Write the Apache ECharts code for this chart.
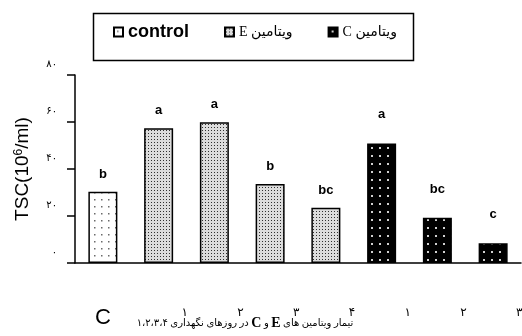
<!DOCTYPE html>
<html>
<head>
<meta charset="utf-8">
<script src="https://cdn.jsdelivr.net/npm/echarts@6/dist/echarts.min.js"></script>
<style>
html, body { margin: 0; padding: 0; background: #fff; }
#chart { width: 522px; height: 336px; }
</style>
</head>
<body>
<div id="chart"></div>
<script>
// values (TSC, 10^6/ml)
var categories = ['control', 'E1', 'E2', 'E3', 'E4', 'C1', 'C2', 'C3'];
var groups = ['control', 'vitE', 'vitE', 'vitE', 'vitE', 'vitC', 'vitC', 'vitC'];
var tsc = [30.3, 57.3, 59.9, 33.6, 23.5, 50.9, 19.3, 8.4];
var letters = ['b', 'a', 'a', 'b', 'bc', 'a', 'bc', 'c'];
var xLabels = ['C', '۱', '۲', '۳', '۴', '۱', '۲', '۳'];
var yTickLabels = ['۰', '۲۰', '۴۰', '۶۰', '۸۰'];
var seriesNames = ['control', 'vitE', 'vitC'];
var legendLabels = ['control', 'E ویتامین', 'C ویتامین'];

var serifFa = "'Liberation Serif', 'DejaVu Serif', 'DejaVu Sans', serif";
var sans = "'Liberation Sans', Arial, sans-serif";

// dotted fills like the original hatch patterns
function dots(size, bg, fg, r, pts) {
    var c = document.createElement('canvas');
    c.width = size;
    c.height = size;
    var g = c.getContext('2d');
    g.fillStyle = bg;
    g.fillRect(0, 0, size, size);
    g.fillStyle = fg;
    pts.forEach(function (p) { g.fillRect(p[0], p[1], r, r); });
    return { image: c, repeat: 'repeat' };
}
var fills = {
    control: dots(7, '#ffffff', '#6a6a6a', 1.5, [[3, 3]]),
    vitE: dots(3, '#dcdcdc', '#303030', 1, [[1, 1]]),
    vitC: dots(8, '#000000', '#d0d0d0', 2, [[3, 3]])
};
var labelGap = { control: 11, vitE: 11, vitC: 22 };

var chart = echarts.init(document.getElementById('chart'));

var series = seriesNames.map(function (name) {
    return {
        name: name,
        type: 'bar',
        barWidth: 29,
        barGap: '-100%',
        data: tsc.map(function (v, i) { return groups[i] === name ? v : '-'; }),
        itemStyle: {
            color: fills[name],
            borderColor: '#000',
            borderWidth: 1.5
        },
        label: {
            show: true,
            position: 'top',
            distance: labelGap[name],
            color: '#000',
            fontSize: 13,
            fontWeight: 'bold',
            fontFamily: sans,
            formatter: function (p) { return letters[p.dataIndex]; }
        }
    };
});

var option = {
    animation: false,
    backgroundColor: '#fff',
    grid: { left: 75, right: 1, top: 75, bottom: 73, outerBoundsMode: 'none' },
    legend: {
        left: 113,
        top: 23,
        padding: 0,
        itemGap: 35,
        itemWidth: 9,
        itemHeight: 9,
        icon: 'rect',
        selectedMode: false,
        data: [
            { name: 'control', textStyle: { fontSize: 18, fontWeight: 'bold', fontFamily: sans, color: '#000' } },
            { name: 'vitE', textStyle: { fontSize: 14, fontFamily: serifFa, color: '#000' } },
            { name: 'vitC', textStyle: { fontSize: 14, fontFamily: serifFa, color: '#000' } }
        ],
        formatter: function (n) { return legendLabels[seriesNames.indexOf(n)]; }
    },
    graphic: [{
        type: 'rect',
        shape: { x: 93.5, y: 13.5, width: 320, height: 47 },
        style: { fill: 'none', stroke: '#000', lineWidth: 1.5 },
        silent: true
    }],
    xAxis: {
        type: 'category',
        data: categories,
        axisLine: { lineStyle: { color: '#000', width: 1.5 } },
        axisTick: { length: 8, interval: 0, lineStyle: { color: '#000', width: 1.5 } },
        axisLabel: {
            interval: 0,
            margin: 44,
            hideOverlap: false,
            formatter: function (v, i) {
                return i === 0 ? '{c|' + xLabels[i] + '}' : '{n|' + xLabels[i] + '}';
            },
            rich: {
                c: { fontSize: 22, fontFamily: sans, color: '#000' },
                n: { fontSize: 12, fontFamily: serifFa, color: '#000', padding: [0, 0, 0, 52] }
            }
        },
        name: '{a|در روزهای نگهداری ۱،۲،۳،۴ }{b|C}{a| و }{b|E}{a| تیمار ویتامین های}',
        nameLocation: 'middle',
        nameGap: 53,
        nameMoveOverlap: false,
        nameTextStyle: {
            padding: [0, 106, 0, 0],
            rich: {
                a: { fontSize: 10, fontFamily: serifFa, color: '#000', lineHeight: 14 },
                b: { fontSize: 14, fontWeight: 'bold', fontFamily: serifFa, color: '#000', lineHeight: 14 }
            }
        }
    },
    yAxis: {
        type: 'value',
        min: 0,
        max: 80,
        interval: 20,
        name: '{m|TSC(10}{s|6}{m|/ml)}',
        nameLocation: 'middle',
        nameRotate: 90,
        nameGap: 42,
        nameMoveOverlap: false,
        nameTextStyle: {
            rich: {
                m: { fontSize: 19, fontFamily: sans, color: '#000', lineHeight: 20 },
                s: { fontSize: 12, fontFamily: sans, color: '#000', verticalAlign: 'top' }
            }
        },
        axisLine: { show: true, lineStyle: { color: '#000', width: 1.5 } },
        axisTick: { show: true, length: 8, lineStyle: { color: '#000', width: 1.5 } },
        splitLine: { show: false },
        axisLabel: {
            margin: 18,
            fontSize: 10,
            color: '#000',
            fontFamily: serifFa,
            verticalAlign: 'bottom',
            padding: [0, 0, 6, 0],
            formatter: function (v) { return yTickLabels[v / 20]; }
        }
    },
    series: series
};

chart.setOption(option);
</script>
</body>
</html>
